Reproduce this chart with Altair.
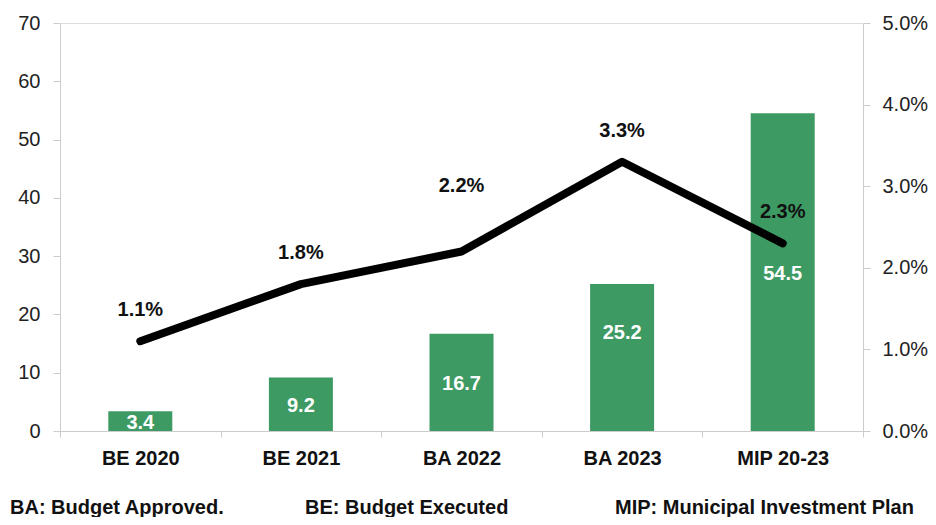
import altair as alt
import pandas as pd

categories = ["BE 2020", "BE 2021", "BA 2022", "BA 2023", "MIP 20-23"]
amounts = [3.4, 9.2, 16.7, 25.2, 54.5]
shares = [0.011, 0.018, 0.022, 0.033, 0.023]
share_labels = ["1.1%", "1.8%", "2.2%", "3.3%", "2.3%"]
footnotes = ["BA: Budget Approved.", "BE: Budget Executed", "MIP: Municipal Investment Plan"]

df = pd.DataFrame({"cat": categories, "amt": amounts, "share": shares, "slab": share_labels})
df["half"] = df["amt"] / 2
df["amtlab"] = df["amt"].map(lambda v: f"{v:.1f}")

FONT = "Liberation Sans"
GREEN = "#3d9a62"

x = alt.X("cat:N", sort=categories, title=None,
          scale=alt.Scale(paddingInner=0.0, paddingOuter=0.0),
          axis=alt.Axis(labelFont=FONT, labelFontSize=20, labelFontWeight="bold",
                        labelColor="#111", labelAngle=0, labelPadding=11,
                        tickBand="extent", tickColor="#cccccc", tickSize=6,
                        domainColor="#cccccc", labelFlush=False))

base = alt.Chart(df)

bars = base.mark_bar(color=GREEN, size=64).encode(
    x=x,
    y=alt.Y("amt:Q", title=None, scale=alt.Scale(domain=[0, 70]),
            axis=alt.Axis(values=[0, 10, 20, 30, 40, 50, 60, 70], grid=False,
                          labelFont=FONT, labelFontSize=20, labelColor="#222",
                          tickColor="#cccccc", tickSize=7, domainColor="#cccccc",
                          labelPadding=13, orient="left")),
)
bar_text = base.transform_filter(alt.datum.cat != "BA 2023").mark_text(
    color="white", font=FONT, fontSize=20, fontWeight="bold", baseline="middle", dy=2
).encode(x=x, y=alt.Y("half:Q"), text="amtlab:N")
bar_text2 = base.transform_filter(alt.datum.cat == "BA 2023").mark_text(
    color="white", font=FONT, fontSize=20, fontWeight="bold", baseline="middle", dy=-25
).encode(x=x, y=alt.Y("half:Q"), text="amtlab:N")

left = alt.layer(bars, bar_text, bar_text2)

yr = alt.Y("share:Q", title=None, scale=alt.Scale(domain=[0, 0.05]),
           axis=alt.Axis(orient="right", format=".1%", values=[0, 0.01, 0.02, 0.03, 0.04, 0.05],
                         grid=False, labelFont=FONT, labelFontSize=20, labelColor="#222",
                         tickColor="#cccccc", tickSize=7, domainColor="#cccccc", labelPadding=12))

line = base.mark_line(color="black", strokeWidth=8, strokeCap="round", strokeJoin="round").encode(
    x=x, y=yr)
ltext = base.transform_filter(alt.datum.cat != "BA 2022").mark_text(
    font=FONT, fontSize=20, fontWeight="bold", color="#111", dy=-31
).encode(x=x, y=alt.Y("share:Q"), text="slab:N")
ltext2 = base.transform_filter(alt.datum.cat == "BA 2022").mark_text(
    font=FONT, fontSize=20, fontWeight="bold", color="#111", dy=-65
).encode(x=x, y=alt.Y("share:Q"), text="slab:N")

right = alt.layer(line, ltext, ltext2)

foot_layers = []
for txt, px in zip(footnotes, [-50, 245, 555]):
    foot_layers.append(
        alt.Chart(pd.DataFrame({"t": [txt]})).mark_text(
            font=FONT, fontSize=20, fontWeight="bold", color="#111",
            align="left", baseline="middle"
        ).encode(x=alt.value(px), y=alt.value(485), text="t:N")
    )

chart = alt.layer(left, right, *foot_layers).resolve_scale(y="independent").properties(
    width=803, height=408,
    autosize=alt.AutoSizeParams(type="none"),
    padding={"left": 52, "top": 15, "right": 65, "bottom": 86},
).configure_view(stroke=None).configure(background="white")

chart.save("out.html", embed_options={"renderer": "svg", "actions": False})
